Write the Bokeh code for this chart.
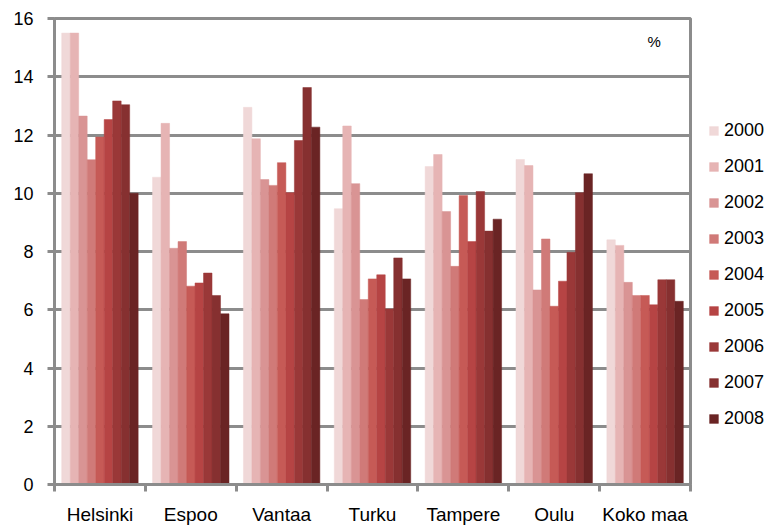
from bokeh.plotting import figure
from bokeh.models import FixedTicker, Legend, LegendItem, Label, ColumnDataSource
from bokeh.embed import file_html
from bokeh.resources import INLINE

cities = ["Helsinki", "Espoo", "Vantaa", "Turku", "Tampere", "Oulu", "Koko maa"]
years = ["2000", "2001", "2002", "2003", "2004", "2005", "2006", "2007", "2008"]
values = {
    "2000": [15.5, 10.55, 12.95, 9.47, 10.92, 11.16, 8.40],
    "2001": [15.5, 12.4, 11.87, 12.31, 11.33, 10.95, 8.21],
    "2002": [12.65, 8.11, 10.47, 10.33, 9.37, 6.68, 6.94],
    "2003": [11.15, 8.34, 10.27, 6.35, 7.49, 8.43, 6.49],
    "2004": [11.93, 6.81, 11.05, 7.06, 9.92, 6.12, 6.49],
    "2005": [12.53, 6.92, 10.02, 7.20, 8.34, 6.98, 6.17],
    "2006": [13.17, 7.26, 11.81, 6.03, 10.06, 7.97, 7.03],
    "2007": [13.04, 6.49, 13.63, 7.78, 8.70, 10.02, 7.03],
    "2008": [10.0, 5.86, 12.27, 7.06, 9.11, 10.67, 6.29],
}
colors = ["#f0d8d8", "#e6b4b4", "#d99494", "#d07a78", "#c65a56",
          "#b64444", "#9a3838", "#863030", "#6a2424"]
y_ticks = [0, 2, 4, 6, 8, 10, 12, 14, 16]

FONT = "Liberation Sans"
GRAY = "#8c8c8c"

p = figure(frame_width=636, frame_height=466, output_backend="svg",
           toolbar_location=None,
           x_range=(0, len(cities)), y_range=(0, 16),
           min_border_left=54, min_border_right=78, min_border_top=18,
           min_border_bottom=43)

bw = 0.0935
items = []
for j, yr in enumerate(years):
    xs = [i + 0.5 + (j - 4) * bw for i in range(len(cities))]
    src = ColumnDataSource(dict(x=xs, top=values[yr]))
    r = p.vbar(x="x", top="top", width=bw, bottom=0, source=src,
               fill_color=colors[j], line_color=colors[j], line_width=0.5)
    items.append(LegendItem(label=yr, renderers=[r]))

# axes
p.xaxis.ticker = FixedTicker(ticks=[i + 0.5 for i in range(len(cities))],
                             minor_ticks=list(range(len(cities) + 1)))
p.xaxis.major_label_overrides = {i + 0.5: c for i, c in enumerate(cities)}
p.xaxis.major_tick_out = 0
p.xaxis.major_tick_in = 0
p.xaxis.minor_tick_out = 7
p.xaxis.minor_tick_in = 0
p.xaxis.minor_tick_line_color = GRAY
p.xaxis.minor_tick_line_width = 3
p.xaxis.axis_line_color = GRAY
p.xaxis.axis_line_width = 3
p.xaxis.major_label_standoff = 12
p.xaxis.major_label_text_font = FONT
p.xaxis.major_label_text_font_size = "19px"
p.xaxis.major_label_text_color = "black"

p.yaxis.ticker = FixedTicker(ticks=y_ticks, minor_ticks=[])
p.yaxis.major_tick_out = 7
p.yaxis.major_tick_in = 0
p.yaxis.major_tick_line_color = GRAY
p.yaxis.major_tick_line_width = 3
p.yaxis.axis_line_color = GRAY
p.yaxis.axis_line_width = 3
p.yaxis.major_label_standoff = 14
p.yaxis.major_label_text_font = FONT
p.yaxis.major_label_text_font_size = "18px"
p.yaxis.major_label_text_color = "black"

p.xgrid.grid_line_color = None
p.ygrid.grid_line_color = GRAY
p.ygrid.grid_line_width = 3
p.outline_line_color = GRAY
p.outline_line_width = 3

p.add_layout(Label(x=593, y=435, x_units="screen", y_units="screen", text="%",
                   text_font=FONT, text_font_size="15px", text_color="black"))

legend = Legend(items=items, location=(18, 55))
legend.border_line_alpha = 0
legend.background_fill_alpha = 0
legend.label_text_font = FONT
legend.label_text_font_size = "18px"
legend.label_text_color = "black"
legend.glyph_width = 11
legend.glyph_height = 11
legend.label_height = 20
legend.spacing = 15
legend.padding = 0
legend.margin = 0
legend.label_standoff = 5
p.add_layout(legend, "right")

open("out.html", "w").write(file_html(p, INLINE))
